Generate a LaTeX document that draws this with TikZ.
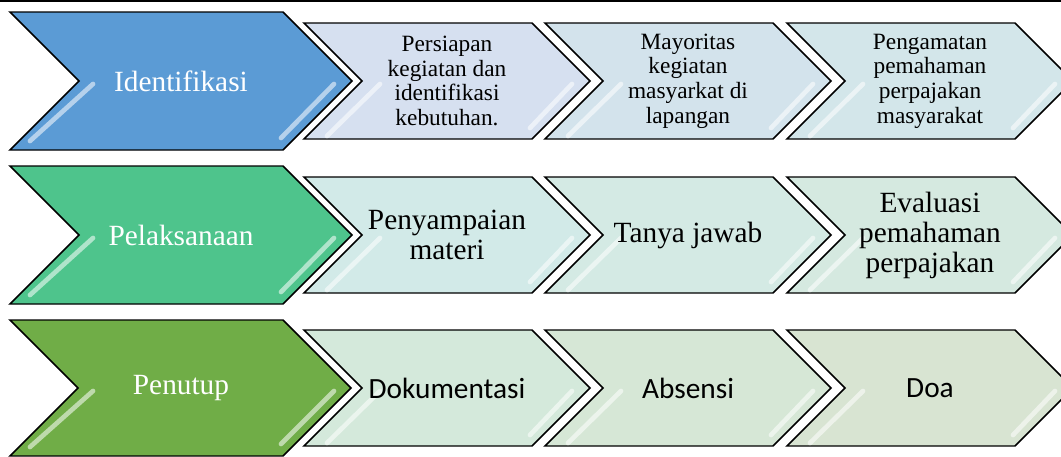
\documentclass[tikz,border=0pt]{standalone}
\usepackage{fontspec}
\setmainfont{Liberation Serif}
\newfontfamily\calibrifont{Carlito}
\usepackage{tikz}

\begin{document}
\begin{tikzpicture}[x=0.75pt,y=0.75pt,yscale=-1,xscale=1,
    chevron/.style={draw=black, line width=1.1pt, line join=miter},
    gloss/.style={draw=white, draw opacity=0.55, line width=3.5pt, line cap=round},
    stage text/.style={text=white, inner sep=0.75pt, font=\fontsize{22}{24}\selectfont},
    small text/.style={inner sep=0.75pt, align=center, font=\fontsize{17.5}{18.5}\selectfont},
    mid text/.style={inner sep=0.75pt, align=center, font=\fontsize{22}{22.5}\selectfont},
    sans text/.style={inner sep=0.75pt, align=center, font=\calibrifont\fontsize{22}{24}\selectfont}]
    \useasboundingbox (0,0) rectangle (1061,457);
    \clip (0,0) rectangle (1061,457);

    %Straight Lines: top rule
    \draw [line width=1.2pt]  (0,1) -- (1061,1) ;

    %Shape: Chevron row 1
    \draw [chevron, fill={rgb, 255:red, 214; green, 224; blue, 240 }]  (304,23) -- (532,23) -- (590,81) -- (532,139) -- (304,139) -- (362,81) -- cycle ;
    \draw [chevron, fill={rgb, 255:red, 211; green, 227; blue, 236 }]  (545,23) -- (773,23) -- (831,81) -- (773,139) -- (545,139) -- (603,81) -- cycle ;
    \draw [chevron, fill={rgb, 255:red, 211; green, 230; blue, 234 }]  (787,23) -- (1015,23) -- (1073,81) -- (1015,139) -- (787,139) -- (845,81) -- cycle ;
    \draw [chevron, fill={rgb, 255:red, 91; green, 155; blue, 213 }]  (10,12) -- (283,12) -- (352,81) -- (283,150) -- (10,150) -- (79,81) -- cycle ;
    \draw [gloss]  (380,84) -- (327,136) (572,84) -- (530,128) ;
    \draw [gloss]  (621,84) -- (568,136) (813,84) -- (771,128) ;
    \draw [gloss]  (863,84) -- (810,136) (1055,84) -- (1013,128) ;
    \draw [gloss]  (93,84) -- (30,141) (334,84) -- (281,138) ;

    %Shape: Chevron row 2
    \draw [chevron, fill={rgb, 255:red, 210; green, 234; blue, 232 }]  (304,177) -- (532,177) -- (590,235) -- (532,293) -- (304,293) -- (362,235) -- cycle ;
    \draw [chevron, fill={rgb, 255:red, 212; green, 234; blue, 228 }]  (545,177) -- (773,177) -- (831,235) -- (773,293) -- (545,293) -- (603,235) -- cycle ;
    \draw [chevron, fill={rgb, 255:red, 213; green, 233; blue, 224 }]  (787,177) -- (1015,177) -- (1073,235) -- (1015,293) -- (787,293) -- (845,235) -- cycle ;
    \draw [chevron, fill={rgb, 255:red, 78; green, 196; blue, 140 }]  (10,166) -- (283,166) -- (352,235) -- (283,304) -- (10,304) -- (79,235) -- cycle ;
    \draw [gloss]  (380,238) -- (327,290) (572,238) -- (530,282) ;
    \draw [gloss]  (621,238) -- (568,290) (813,238) -- (771,282) ;
    \draw [gloss]  (863,238) -- (810,290) (1055,238) -- (1013,282) ;
    \draw [gloss]  (93,238) -- (30,295) (334,238) -- (281,292) ;

    %Shape: Chevron row 3
    \draw [chevron, fill={rgb, 255:red, 212; green, 233; blue, 219 }]  (304,330) -- (532,330) -- (590,388) -- (532,446) -- (304,446) -- (362,388) -- cycle ;
    \draw [chevron, fill={rgb, 255:red, 214; green, 231; blue, 214 }]  (545,330) -- (773,330) -- (831,388) -- (773,446) -- (545,446) -- (603,388) -- cycle ;
    \draw [chevron, fill={rgb, 255:red, 216; green, 228; blue, 210 }]  (787,330) -- (1015,330) -- (1073,388) -- (1015,446) -- (787,446) -- (845,388) -- cycle ;
    \draw [chevron, fill={rgb, 255:red, 112; green, 173; blue, 71 }]  (10,320) -- (283,320) -- (351,388) -- (283,456) -- (10,456) -- (78,388) -- cycle ;
    \draw [gloss]  (380,391) -- (327,443) (572,391) -- (530,435) ;
    \draw [gloss]  (621,391) -- (568,443) (813,391) -- (771,435) ;
    \draw [gloss]  (863,391) -- (810,443) (1055,391) -- (1013,435) ;
    \draw [gloss]  (93,391) -- (30,447) (334,391) -- (281,444) ;

    % Text Node
    \draw (181,81) node (identifikasi) [stage text] {Identifikasi};
    % Text Node
    \draw (447,81) node (persiapan) [small text] {Persiapan\\kegiatan dan\\identifikasi\\kebutuhan.};
    % Text Node
    \draw (688,81) node (mayoritas) [small text] {Mayoritas\\kegiatan\\masyarkat di\\lapangan};
    % Text Node
    \draw (930,81) node (pengamatan) [small text] {Pengamatan\\pemahaman\\perpajakan\\masyarakat};
    % Text Node
    \draw (181,235) node (pelaksanaan) [stage text] {Pelaksanaan};
    % Text Node
    \draw (447,235) node (penyampaian) [mid text] {Penyampaian\\materi};
    % Text Node
    \draw (688,235) node (tanyajawab) [mid text] {Tanya jawab};
    % Text Node
    \draw (930,235) node (evaluasi) [mid text] {Evaluasi\\pemahaman\\perpajakan};
    % Text Node
    \draw (181,388) node (penutup) [stage text] {Penutup};
    % Text Node
    \draw (447,388) node (dokumentasi) [sans text] {Dokumentasi};
    % Text Node
    \draw (688,388) node (absensi) [sans text] {Absensi};
    % Text Node
    \draw (930,388) node (doa) [sans text] {Doa};
\end{tikzpicture}
\end{document}
